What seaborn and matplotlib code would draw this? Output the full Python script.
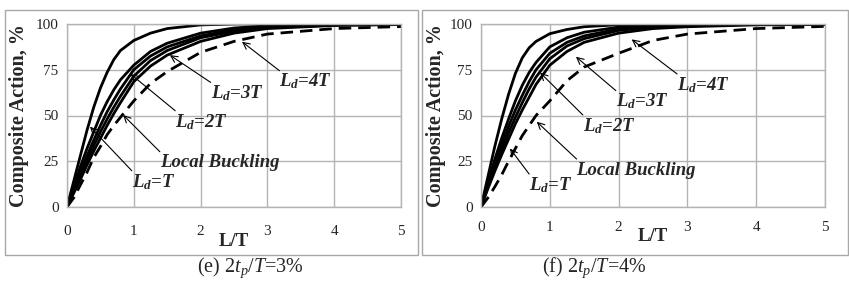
import matplotlib
matplotlib.use("Agg")
import matplotlib.pyplot as plt
from matplotlib.patches import Rectangle
import seaborn as sns
import pandas as pd

# ---------------- data ----------------
x_lt = [0, 0.1, 0.2, 0.3, 0.4, 0.5, 0.6, 0.7, 0.8, 1.0, 1.25, 1.5, 2.0, 2.5, 3.0, 4.0, 5.0]

# panel (e) 2tp/T = 3%
e_c0 = [0, 14, 28, 42, 54.5, 65, 73.5, 80.5, 85.5, 91, 95, 97.5, 99.5, 100, 100, 100, 100]
e_c1 = [0, 11, 22, 32, 41, 50, 57.5, 64, 69.5, 77.5, 85, 89.5, 95, 97.8, 99, 99.8, 100]
e_c2 = [0, 9.5, 19, 28, 36.5, 44.5, 52, 58.5, 64.5, 75, 82.5, 87.5, 93.5, 96.8, 98.5, 99.6, 99.9]
e_c3 = [0, 8.5, 17, 25.5, 33.5, 41, 48, 54.5, 60.5, 71.5, 80, 85.5, 92.5, 96, 98, 99.4, 99.8]
e_c4 = [0, 7.5, 15, 23, 30.5, 37.5, 44.5, 51, 57, 68.5, 77, 83, 90.5, 95, 97.5, 99.2, 99.7]
e_lb = [0, 5, 12, 19, 27, 33, 39.5, 44.5, 49, 58, 67.5, 74, 84.5, 90.5, 94.5, 97.5, 98.6]

# panel (f) 2tp/T = 4%
f_c0 = [0, 16.5, 33, 48, 61.5, 73, 81.5, 87, 90.5, 94.7, 97, 98.5, 99.6, 100, 100, 100, 100]
f_c1 = [0, 13, 26, 37.5, 48, 58, 66.5, 73.5, 79, 87.5, 92.5, 95.5, 98.3, 99.4, 99.8, 100, 100]
f_c2 = [0, 12, 23.5, 34, 44, 53, 61, 68.5, 75, 84, 90, 93.5, 97.3, 98.9, 99.5, 99.9, 100]
f_c3 = [0, 11, 21.5, 31, 40.5, 49, 57, 64.5, 71, 81, 88, 92, 96.5, 98.4, 99.3, 99.8, 100]
f_c4 = [0, 10, 19.5, 28.5, 37, 45.5, 53, 60, 67, 77.5, 85, 90, 95, 97.5, 98.5, 99.5, 99.8]
f_lb = [0, 5, 11, 17.5, 25, 32, 39, 44.5, 50, 58, 69, 76.5, 84, 91, 94.5, 97.5, 98.7]

x_ticks = [0, 1, 2, 3, 4, 5]
y_ticks = [0, 25, 50, 75, 100]
captions = [r"(e) 2$t_p$/$T$=3%", r"(f) 2$t_p$/$T$=4%"]
x_label = "L/T"
y_label = "Composite Action, %"
labels = [r"$\mathbf{L_d}$=$\mathbf{T}$", r"$\mathbf{L_d}$=$\mathbf{2T}$",
          r"$\mathbf{L_d}$=$\mathbf{3T}$", r"$\mathbf{L_d}$=$\mathbf{4T}$", "Local Buckling"]

# annotation geometry (text position, arrow tip) per panel
ann_e = [((0.97, 13.8), (0.344, 43.9)), ((1.62, 46.6), (0.95, 72.7)),
         ((2.15, 62.1), (1.54, 83.0)), ((3.18, 68.5), (2.62, 90.3)),
         ((1.39, 24.2), (0.84, 50.3))]
ann_f = [((0.7, 12.0), (0.42, 32.0)), ((1.48, 44.3), (0.86, 73.4)),
         ((1.96, 57.6), (1.38, 82.1)), ((2.85, 66.7), (2.19, 91.6)),
         ((1.39, 20.2), (0.81, 46.6))]

# ---------------- style ----------------
sns.set_theme(style="white")
plt.rcParams["font.family"] = ["Liberation Serif", "DejaVu Serif"]
plt.rcParams["mathtext.fontset"] = "custom"
plt.rcParams["mathtext.rm"] = "Liberation Serif"
plt.rcParams["mathtext.it"] = "Liberation Serif:italic"
plt.rcParams["mathtext.bf"] = "Liberation Serif:bold:italic"

fig = plt.figure(figsize=(8.49, 2.86), dpi=100)
W, H = 849, 286

def px_axes(x0, x1, ytop, ybot):
    return fig.add_axes([x0 / W, 1 - ybot / H, (x1 - x0) / W, (ybot - ytop) / H])

ax_e = px_axes(67, 401, 24, 207)
ax_f = px_axes(481, 825, 24, 207)

# outer boxes
for bx0, bx1 in [(4.5, 418), (422, 847.5)]:
    fig.patches.append(Rectangle((bx0 / W, 1 - 255 / H), (bx1 - bx0) / W, (255 - 10) / H,
                                 transform=fig.transFigure, fill=False,
                                 edgecolor="#a8a8a8", lw=1.0))

grid_c = "#b4b4b4"
panels = [
    (ax_e, [e_c0, e_c1, e_c2, e_c3, e_c4], e_lb, ann_e, 13, 29, 67, 334),
    (ax_f, [f_c0, f_c1, f_c2, f_c3, f_c4], f_lb, ann_f, 10, 446, 481, 344),
]
for ax, solids, lb, anns, xpad, ylabx, ax0, aw in panels:
    for ys in solids:
        df = pd.DataFrame({"x": x_lt, "y": ys})
        sns.lineplot(data=df, x="x", y="y", ax=ax, color="black", lw=2.0,
                     estimator=None, sort=False)
    dfl = pd.DataFrame({"x": x_lt, "y": lb})
    sns.lineplot(data=dfl, x="x", y="y", ax=ax, color="black", lw=2.0,
                 estimator=None, sort=False)
    ax.lines[-1].set_linestyle((0, (4.5, 2.5)))

    ax.set_xlim(0, 5)
    ax.set_ylim(0, 100)
    ax.set_xticks(x_ticks)
    ax.set_yticks(y_ticks)
    ax.set_xticklabels([str(t) for t in x_ticks], fontsize=11)
    ax.set_yticklabels([str(t) for t in y_ticks], fontsize=11)
    ax.tick_params(axis="x", length=0, pad=xpad)
    ax.tick_params(axis="y", length=0, pad=6)
    ax.grid(True, color=grid_c, lw=1.0)
    for s in ax.spines.values():
        s.set_color(grid_c)
        s.set_linewidth(1.0)
    ax.set_xlabel(x_label, fontsize=13.5, fontweight="bold", labelpad=-4)
    ax.set_ylabel(y_label, fontsize=14.5, fontweight="bold")
    ax.yaxis.set_label_coords((ylabx - ax0) / aw, 0.5)

    for lab, ((tx, ty), (tipx, tipy)) in zip(labels, anns):
        ax.annotate("", xy=(tipx, tipy), xytext=(tx, ty + 6),
                    arrowprops=dict(arrowstyle="->", color="black", lw=0.8,
                                    shrinkA=0, shrinkB=0))
        ax.text(tx, ty, lab, fontsize=13.5, fontweight="bold", fontstyle="italic",
                ha="left", va="center")

fig.text(250 / W, 1 - 268 / H, captions[0], fontsize=14.5, ha="center", va="center")
fig.text(594 / W, 1 - 268 / H, captions[1], fontsize=14.5, ha="center", va="center")

fig.savefig("out.png", dpi=100)
